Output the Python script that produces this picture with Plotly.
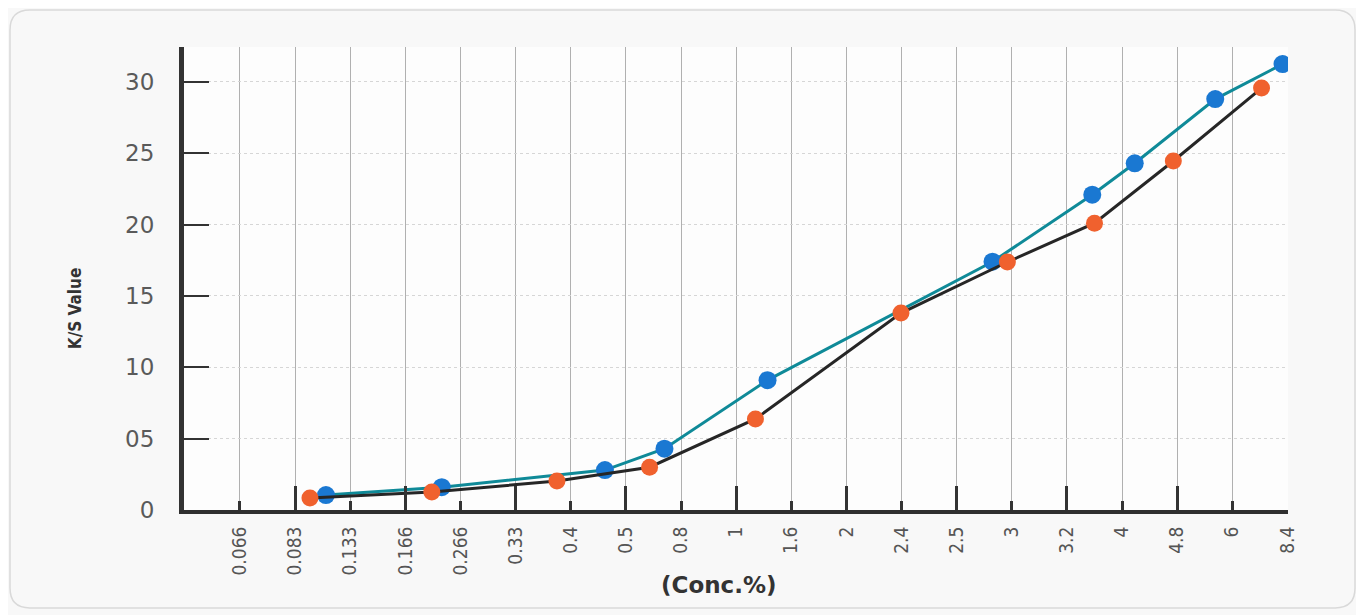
import plotly.graph_objects as go

# ---- data ----
categories = ["0.066", "0.083", "0.133", "0.166", "0.266", "0.33", "0.4", "0.5", "0.8", "1",
              "1.6", "2", "2.4", "2.5", "3", "3.2", "4", "4.8", "6", "8.4"]

# sample positions expressed on the category scale (fractional category index)
blue_pos = [1.56, 3.66, 6.62, 7.70, 9.57, 13.65, 15.46, 16.23, 17.69, 18.91]
blue_ks = [1.05, 1.6, 2.8, 4.3, 9.1, 17.4, 22.1, 24.3, 28.8, 31.25]

orange_pos = [1.27, 3.48, 5.75, 7.43, 9.35, 11.99, 13.92, 15.5, 16.93, 18.53]
orange_ks = [0.84, 1.26, 2.03, 3.0, 6.38, 13.8, 17.38, 20.1, 24.46, 29.57]

y_tickvals = [0, 5, 10, 15, 20, 25, 30]
y_ticktext = ["0", "05", "10", "15", "20", "25", "30"]

# ---- figure ----
cat_idx = list(range(len(categories)))
long_ticks = cat_idx[1::2]

fig = go.Figure()
fig.add_trace(go.Scatter(
    x=blue_pos, y=blue_ks, mode="lines+markers",
    line=dict(color="#0f8a98", width=3),
    marker=dict(color="#1a78d2", size=18),
    showlegend=False, hoverinfo="skip"))
fig.add_trace(go.Scatter(
    x=orange_pos, y=orange_ks, mode="lines+markers",
    line=dict(color="#262626", width=3),
    marker=dict(color="#f0612e", size=17),
    showlegend=False, hoverinfo="skip"))
fig.add_trace(go.Scatter(x=[None], y=[None], xaxis="x2", showlegend=False, hoverinfo="skip"))

xr = [-1.015, 19.01]
yr = [0, 32.45]

# the page body adds an 8px offset, so the figure is sized/margined to compensate
fig.update_layout(
    width=1356, height=607,
    margin=dict(l=176, r=76, t=39, b=105),
    paper_bgcolor="#f8f8f8",
    plot_bgcolor="#fdfdfd",
    xaxis=dict(
        range=xr, tickmode="array", tickvals=cat_idx, ticktext=categories,
        tickangle=-90, ticks="inside", ticklen=9, tickwidth=3, tickcolor="#333333",
        showline=True, linewidth=4, linecolor="#2f2f2f",
        showgrid=True, gridcolor="#b0b0b0", gridwidth=1,
        zeroline=False, ticklabelstandoff=5,
        tickfont=dict(family="DejaVu Sans Condensed, sans-serif",
                      size=19, color="#555555"),
    ),
    xaxis2=dict(
        range=xr, overlaying="x", anchor="y", side="bottom",
        tickmode="array", tickvals=long_ticks, showticklabels=False,
        ticks="inside", ticklen=24, tickwidth=3, tickcolor="#333333",
        showline=False, showgrid=False, zeroline=False,
    ),
    yaxis=dict(
        range=yr, tickmode="array", tickvals=y_tickvals, ticktext=y_ticktext,
        ticks="inside", ticklen=25, tickwidth=2, tickcolor="#333333",
        showline=True, linewidth=5, linecolor="#333333",
        showgrid=True, gridcolor="#d6d6d6", gridwidth=1, griddash="dot",
        zeroline=False, ticklabelstandoff=20,
        tickfont=dict(family="DejaVu Sans, sans-serif", size=23, color="#5a5a5a"),
    ),
    annotations=[
        dict(text="<b>(Conc.%)</b>", xref="paper", yref="paper", x=0.4846, y=-0.162,
             showarrow=False, xanchor="center", yanchor="middle",
             font=dict(family="DejaVu Sans, sans-serif", size=23, color="#333333")),
        dict(text="<b>K/S Value</b>", xref="paper", yref="paper", x=-0.0987, y=0.436,
             showarrow=False, textangle=-90, xanchor="center", yanchor="middle",
             font=dict(family="DejaVu Sans Condensed, sans-serif",
                       size=17, color="#333333")),
    ],
)

# light rounded frame around the whole chart
x0, x1, y0, y1 = -0.1576, 1.0607, -0.2117, 1.0799
rx, ry = 0.018, 0.043
path = (f"M {x0+rx},{y1} L {x1-rx},{y1} Q {x1},{y1} {x1},{y1-ry} "
        f"L {x1},{y0+ry} Q {x1},{y0} {x1-rx},{y0} L {x0+rx},{y0} "
        f"Q {x0},{y0} {x0},{y0+ry} L {x0},{y1-ry} Q {x0},{y1} {x0+rx},{y1} Z")
fig.add_shape(type="path", path=path, xref="paper", yref="paper",
              line=dict(color="#d9d9d9", width=1.5), layer="below")

fig.write_html("out.html")
